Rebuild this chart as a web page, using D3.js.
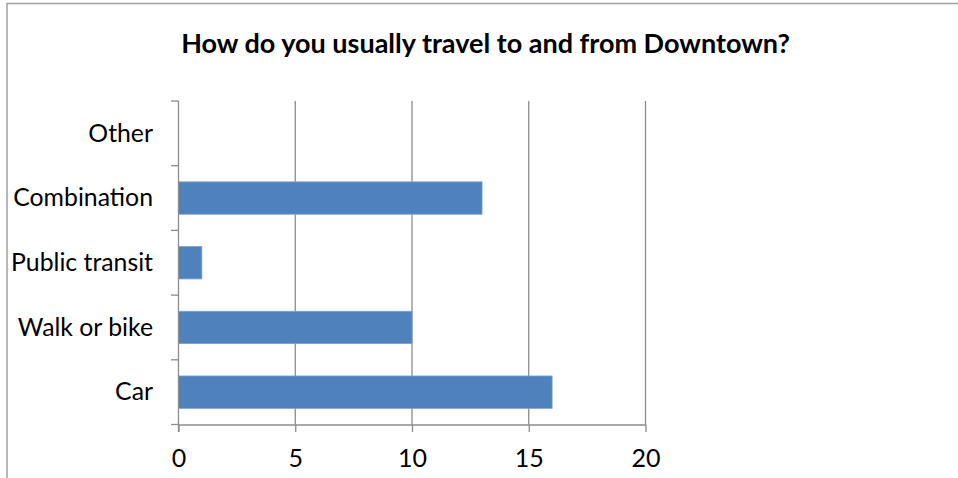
<!DOCTYPE html>
<html>
<head>
<meta charset="utf-8">
<script src="https://cdn.jsdelivr.net/npm/d3@7"></script>
<style>
  html, body { margin: 0; padding: 0; background: #fff; }
  svg { display: block; }
</style>
</head>
<body>
<script>
// Survey responses: travel mode to and from Downtown
const categories = ["Other", "Combination", "Public transit", "Walk or bike", "Car"];
const responses = [0, 13, 1, 10, 16];
const xTicks = [0, 5, 10, 15, 20];
const chartTitle = "How do you usually travel to and from Downtown?";

const W = 958, H = 478;
const plot = { left: 178.5, right: 645.5, top: 101, bottom: 424.5 };
const FONT = "Lato, 'Open Sans', sans-serif";
const axisGray = "#8c8c8c";

const svg = d3.select("body").append("svg")
  .attr("width", W).attr("height", H);

// chart frame (extends past the window on the right and bottom)
svg.append("rect")
  .attr("x", 7).attr("y", 3.5)
  .attr("width", W + 20).attr("height", H + 20)
  .attr("fill", "#fff")
  .attr("stroke", "#a6a6a6").attr("stroke-width", 1.6);

svg.append("text")
  .attr("x", 485.5).attr("y", 53)
  .attr("text-anchor", "middle")
  .attr("font-family", FONT).attr("font-weight", "bold")
  .attr("font-size", 27).attr("fill", "#000")
  .text(chartTitle);

const x = d3.scaleLinear().domain([0, 20]).range([plot.left, plot.right]);
const y = d3.scaleBand().domain(categories)
  .range([plot.top, plot.bottom])
  .paddingInner(0.5).paddingOuter(0.25);

// vertical gridlines
svg.append("g").selectAll("line")
  .data(xTicks.filter(d => d > 0))
  .join("line")
  .attr("x1", d => x(d)).attr("x2", d => x(d))
  .attr("y1", plot.top).attr("y2", plot.bottom)
  .attr("stroke", axisGray).attr("stroke-width", 1.3);

// bars
svg.append("g").selectAll("rect")
  .data(categories.map((c, i) => ({ c, v: responses[i] })).filter(d => d.v > 0))
  .join("rect")
  .attr("x", x(0))
  .attr("y", d => y(d.c))
  .attr("width", d => x(d.v) - x(0))
  .attr("height", y.bandwidth())
  .attr("fill", "#4f81bd")
  .attr("stroke", "#7b9fd0").attr("stroke-width", 0.8);

// x axis
const xAxis = svg.append("g")
  .attr("transform", `translate(0,${plot.bottom})`)
  .call(d3.axisBottom(x).tickValues(xTicks).tickSize(7.5).tickSizeOuter(0).tickPadding(17));
xAxis.select(".domain").attr("stroke", axisGray).attr("stroke-width", 1.3);
xAxis.selectAll(".tick line").attr("stroke", axisGray).attr("stroke-width", 1.3);
xAxis.selectAll(".tick text")
  .attr("font-family", FONT).attr("font-size", 25).attr("fill", "#000");

// y axis: category ticks sit on band boundaries
const yBounds = d3.range(categories.length + 1)
  .map(i => plot.top + i * (plot.bottom - plot.top) / categories.length);
const yAxis = svg.append("g");
yAxis.append("line")
  .attr("x1", plot.left).attr("x2", plot.left)
  .attr("y1", plot.top).attr("y2", plot.bottom + 7.5)
  .attr("stroke", axisGray).attr("stroke-width", 1.3);
yAxis.selectAll("line.tk").data(yBounds).join("line").attr("class", "tk")
  .attr("x1", plot.left - 7.5).attr("x2", plot.left)
  .attr("y1", d => d).attr("y2", d => d)
  .attr("stroke", axisGray).attr("stroke-width", 1.3);
yAxis.selectAll("text").data(categories).join("text")
  .attr("x", plot.left - 25.5)
  .attr("y", d => y(d) + y.bandwidth() / 2)
  .attr("dy", "0.33em")
  .attr("text-anchor", "end")
  .attr("font-family", FONT).attr("font-size", 24.8).attr("fill", "#000")
  .text(d => d);
</script>
</body>
</html>
